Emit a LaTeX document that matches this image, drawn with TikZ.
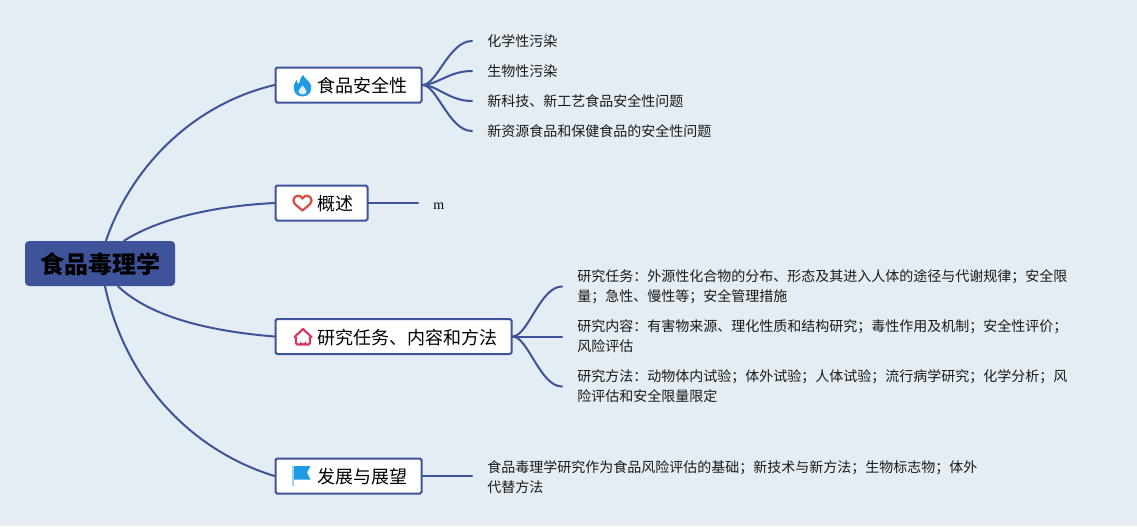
\documentclass[tikz,border=0pt]{standalone}
\usepackage{fontspec}
\usetikzlibrary{calc}
\newfontfamily\cjk{Noto Sans CJK SC}
\newfontfamily\serifm{Liberation Serif}
\definecolor{bgc}{HTML}{E4EDF3}
\definecolor{linec}{HTML}{3F539B}
\definecolor{txt}{HTML}{1A1A1A}
\definecolor{flamec}{HTML}{1F9BE3}
\definecolor{heartc}{HTML}{D5503F}
\definecolor{housec}{HTML}{D8385C}
\tikzset{
  x=0.75pt,y=-0.75pt,
  rootbox/.style={fill=linec,rounded corners=3pt,minimum width=112.5pt,minimum height=33.75pt,inner sep=0pt,text height=15.8pt,text depth=1pt,font=\cjk\bfseries\fontsize{18}{18}\selectfont,text=black},
  topicbox/.style={draw=linec,line width=1.5pt,fill=white,rounded corners=1.2pt,anchor=west,minimum height=26.25pt,inner xsep=10.5pt,inner ysep=0pt,text height=12.25pt,text depth=0.75pt,font=\cjk\fontsize{13.5}{16}\selectfont,text=black},
  leaf/.style={anchor=west,inner xsep=11.25pt,inner ysep=0pt,align=left,font=\cjk\fontsize{10.5}{15}\selectfont,text=txt},
  link/.style={draw=linec,line width=1.5pt,line cap=round},
}
\newcommand{\iconpad}[1]{\hspace*{#1}}
\begin{document}
\begin{tikzpicture}
\useasboundingbox (0,0) rectangle (1137,526);
\fill[bgc] (0,0) rectangle (1137,526);

\node[rootbox] (root) at (100,263.5) {食品毒理学};
\node[topicbox] (n1) at (274.5,85) {\iconpad{21pt}食品安全性};
\node[topicbox] (n2) at (274.5,203) {\iconpad{21pt}概述};
\node[topicbox] (n3) at (274.5,336.5) {\iconpad{21pt}研究任务、内容和方法};
\node[topicbox] (n4) at (274.5,476) {\iconpad{21pt}发展与展望};

\node[leaf] (a1) at (472,41) {化学性污染};
\node[leaf] (a2) at (472,71) {生物性污染};
\node[leaf] (a3) at (472,101) {新科技、新工艺食品安全性问题};
\node[leaf] (a4) at (472,131) {新资源食品和保健食品的安全性问题};
\node[anchor=west,inner xsep=11.25pt,inner ysep=0pt,font=\serifm\fontsize{10.5}{12}\selectfont,text=black] (b1) at (418,206.5) {m};
\node[leaf] (c1) at (562,286.5) {研究任务：外源性化合物的分布、形态及其进入人体的途径与代谢规律；安全限\\量；急性、慢性等；安全管理措施};
\node[leaf] (c2) at (562,336.5) {研究内容：有害物来源、理化性质和结构研究；毒性作用及机制；安全性评价；\\风险评估};
\node[leaf] (c3) at (562,386.5) {研究方法：动物体内试验；体外试验；人体试验；流行病学研究；化学分析；风\\险评估和安全限量限定};
\node[leaf] (d1) at (472,477.5) {食品毒理学研究作为食品风险评估的基础；新技术与新方法；生物标志物；体外\\代替方法};

% root to topics
\draw[link] ($(root.north)+(6,0)$) .. controls (130,170) and (190,105) .. (n1.west);
\draw[link] ($(root.north)+(24,0)$) .. controls (160,218) and (215,206) .. (n2.west);
\draw[link] ($(root.south)+(18,0)$) .. controls (145,312) and (195,330) .. (n3.west);
\draw[link] ($(root.south)+(5,0)$) .. controls (125,380) and (190,450) .. (n4.west);

% topics to leaves
\foreach \t in {a1,a2,a3,a4}
  \draw[link] (n1.east) .. controls (437,85) and (449,85 |- \t.west) .. (\t.west);
\draw[link] (n2.east) -- (n2.east -| b1.west);
\foreach \t in {c1,c2,c3}
  \draw[link] (n3.east) .. controls (528,336.5) and (540,336.5 |- \t.west) .. (\t.west);
\draw[link] (n4.east) -- (n4.east -| d1.west);

% flame icon
\fill[flamec] (303,75) .. controls (305,79) and (309.5,81) .. (311,85.5)
  .. controls (312.5,91) and (309,96.5) .. (302.5,96.5)
  .. controls (296,96.5) and (292.5,91) .. (294,85.5)
  .. controls (294.5,83) and (295.5,81.5) .. (296.5,80)
  .. controls (297,82) and (297.5,83) .. (299,84)
  .. controls (300,81) and (300,78) .. (303,75) -- cycle;
\fill[white!85!flamec] (302.5,85.5) .. controls (304,88) and (306.5,89) .. (306.5,91.5)
  .. controls (306.5,93.5) and (304.5,94.5) .. (302.5,94.5)
  .. controls (300.5,94.5) and (298.5,93.5) .. (298.5,91.5)
  .. controls (298.5,89.5) and (301,88) .. (302.5,85.5) -- cycle;

% heart icon
\draw[heartc,line width=1.7pt,line join=round] (302.5,210.5)
  .. controls (298,206.5) and (293.5,204) .. (293.5,200.5)
  .. controls (293.5,195) and (300.5,194) .. (302.5,198.5)
  .. controls (304.5,194) and (311.5,195) .. (311.5,200.5)
  .. controls (311.5,204) and (307,206.5) .. (302.5,210.5) -- cycle;

% house icon
\draw[housec,line width=1.6pt,line join=round,rounded corners=1pt] (296,337) -- (296,344.5) -- (310,344.5) -- (310,337);
\draw[housec,line width=1.6pt,line join=round,line cap=round] (294.5,337) -- (303,329) -- (311.5,337);
\fill[housec] (300,344.5) -- (300,340.5) arc[start angle=180,end angle=0,radius=3] -- (306,344.5) -- cycle;

% flag icon
\fill[flamec] (293,466) -- (310.5,466) -- (307,472.5) -- (310.5,479.5) -- (293,479.5) -- cycle;
\fill[flamec!45!white] (292,466) rectangle (293.5,486);
\end{tikzpicture}
\end{document}
